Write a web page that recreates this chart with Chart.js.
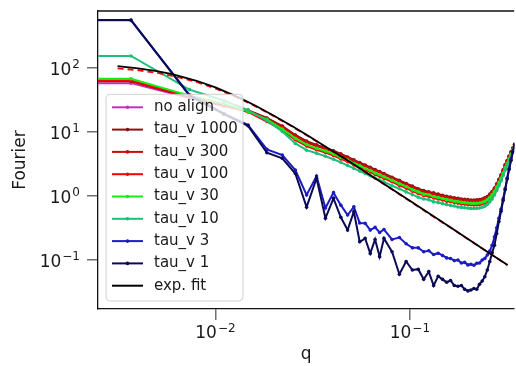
<!DOCTYPE html>
<html>
<head>
<meta charset="utf-8">
<script src="https://cdn.jsdelivr.net/npm/chart.js@4.4.0/dist/chart.umd.min.js"></script>
<style>
  html, body { margin: 0; padding: 0; background: #fff; }
</style>
</head>
<body>
<canvas id="chart" width="516" height="366"></canvas>
<script>
// q grid shared by all measured curves
const Q = [0.00368, 0.00736, 0.01104, 0.01472, 0.0184, 0.02208, 0.02576, 0.02944, 0.03312, 0.0368,
  0.04048, 0.04416, 0.04784, 0.05152, 0.0552, 0.05888, 0.06256, 0.06624, 0.06992, 0.0736,
  0.08096, 0.08832, 0.09568, 0.10304, 0.1104, 0.11776, 0.12512, 0.13248, 0.13984, 0.1472,
  0.15456, 0.16192, 0.16928, 0.17664, 0.184, 0.19136, 0.19872, 0.20608, 0.21344, 0.2208,
  0.22816, 0.23552, 0.24288, 0.25024, 0.2576, 0.26496, 0.27232, 0.27968, 0.28704, 0.2944,
  0.30176, 0.30912, 0.31648, 0.32384, 0.3312, 0.33856, 0.34592];

const NO_ALIGN = [58, 34, 25.5, 21.5, 16.3, 12.2, 8.85, 7.0, 6.15, 5.55, 5.0, 4.45, 4.0, 3.6, 3.27, 3.0, 2.75, 2.54, 2.37, 2.2,
  1.93, 1.72, 1.55, 1.4, 1.27, 1.2, 1.14, 1.09, 1.05, 1.01, 0.975, 0.945, 0.92, 0.9, 0.88, 0.87, 0.86, 0.85, 0.85, 0.85,
  0.86, 0.885, 0.915, 0.965, 1.05, 1.16, 1.31, 1.52, 1.78, 2.1, 2.52, 3.05, 3.55, 4.15, 4.85, 5.6, 6.4];
const TAU_1000 = [62, 35, 26, 22.0, 16.6, 12.4, 9.0, 7.2, 6.3, 5.65, 5.1, 4.55, 4.08, 3.67, 3.33, 3.05, 2.8, 2.6, 2.41, 2.25,
  1.97, 1.76, 1.57, 1.43, 1.3, 1.22, 1.16, 1.12, 1.07, 1.03, 0.995, 0.965, 0.94, 0.92, 0.9, 0.89, 0.878, 0.868, 0.868, 0.87,
  0.88, 0.9, 0.935, 0.985, 1.07, 1.18, 1.33, 1.55, 1.82, 2.14, 2.56, 3.1, 3.6, 4.2, 4.9, 5.6, 6.4];
const TAU_300 = [63, 35, 26.2, 21.2, 16.0, 11.9, 8.7, 6.85, 6.05, 5.45, 4.9, 4.37, 3.93, 3.52, 3.21, 2.94, 2.7, 2.49, 2.32, 2.16,
  1.9, 1.69, 1.51, 1.37, 1.25, 1.17, 1.12, 1.07, 1.03, 0.99, 0.955, 0.93, 0.905, 0.885, 0.865, 0.855, 0.845, 0.835, 0.835, 0.835,
  0.845, 0.865, 0.895, 0.945, 1.03, 1.13, 1.29, 1.49, 1.75, 2.06, 2.47, 2.98, 3.5, 4.1, 4.8, 5.55, 6.35];
const TAU_100 = [64, 35.5, 26.5, 20.6, 14.6, 10.8, 7.56, 6.03, 5.27, 4.77, 4.3, 3.8, 3.45, 3.06, 2.83, 2.55, 2.38, 2.17, 2.03, 1.89,
  1.67, 1.47, 1.33, 1.19, 1.1, 1.02, 0.99, 0.93, 0.9, 0.87, 0.83, 0.815, 0.79, 0.776, 0.754, 0.749, 0.736, 0.731, 0.727, 0.731,
  0.738, 0.758, 0.781, 0.83, 0.9, 0.99, 1.13, 1.31, 1.54, 1.82, 2.2, 2.66, 3.15, 3.75, 4.45, 5.25, 6.1];
const TAU_30 = [68, 37, 27.5, 21, 15.8, 11.1, 7.98, 6.37, 5.56, 5.04, 4.54, 4.01, 3.64, 3.23, 2.98, 2.69, 2.51, 2.29, 2.15, 2.0,
  1.76, 1.55, 1.41, 1.25, 1.16, 1.07, 1.045, 0.98, 0.95, 0.917, 0.879, 0.86, 0.831, 0.819, 0.796, 0.79, 0.777, 0.771, 0.768, 0.771,
  0.779, 0.8, 0.825, 0.876, 0.945, 1.045, 1.19, 1.38, 1.62, 1.9, 2.28, 2.76, 3.23, 3.8, 4.47, 5.25, 6.0];
const TAU_10 = [154, 46, 31, 22, 15, 10.2, 6.64, 5.2, 4.66, 4.19, 3.75, 3.36, 3.0, 2.7, 2.46, 2.25, 2.07, 1.91, 1.78, 1.66,
  1.45, 1.3, 1.16, 1.05, 0.96, 0.9, 0.875, 0.81, 0.79, 0.76, 0.735, 0.71, 0.7, 0.675, 0.665, 0.655, 0.648, 0.64, 0.64, 0.642,
  0.65, 0.67, 0.695, 0.74, 0.81, 0.9, 1.04, 1.22, 1.45, 1.72, 2.09, 2.55, 3.0, 3.56, 4.2, 4.95, 5.7];
const TAU_3 = [555, 38, 19.5, 12.9, 5.36, 4.37, 2.55, 1.04, 2.05, 0.65, 1.13, 0.72, 0.505, 0.68, 0.38, 0.375, 0.294, 0.324, 0.27, 0.30,
  0.21, 0.225, 0.18, 0.155, 0.155, 0.135, 0.14, 0.122, 0.128, 0.118, 0.108, 0.106, 0.098, 0.1, 0.09, 0.092, 0.084, 0.086, 0.083, 0.089,
  0.09, 0.1, 0.106, 0.12, 0.138, 0.17, 0.23, 0.32, 0.45, 0.62, 0.9, 1.3, 1.9, 2.7, 3.7, 5.0, 6.5];
const TAU_1 = [562, 37, 19, 12.5, 4.75, 3.88, 2.25, 0.67, 1.9, 0.45, 0.92, 0.465, 0.294, 0.57, 0.193, 0.218, 0.127, 0.21, 0.113, 0.218,
  0.135, 0.06, 0.095, 0.07, 0.072, 0.05, 0.066, 0.04, 0.056, 0.05, 0.045, 0.048, 0.04, 0.039, 0.04, 0.035, 0.033, 0.034, 0.036, 0.035,
  0.042, 0.047, 0.055, 0.07, 0.095, 0.13, 0.17, 0.26, 0.4, 0.58, 0.85, 1.25, 1.85, 2.6, 3.6, 4.9, 6.4];

// fitted curves
const FIT_Q = [0.00314, 0.004, 0.005, 0.006, 0.008, 0.01, 0.013, 0.016, 0.02, 0.025, 0.03,
  0.04, 0.05, 0.065, 0.08, 0.1, 0.13, 0.16, 0.2, 0.25, 0.318];
const FIT = [107, 99, 89.5, 80, 63.2, 49.8, 35.4, 25.9, 18.0, 12.2, 8.73,
  5.07, 3.30, 1.97, 1.31, 0.842, 0.499, 0.330, 0.2115, 0.1354, 0.0838];
const FIT_DASHED = [99.0, 92.3, 84.0, 75.7, 60.4, 48.0, 34.4, 25.4, 17.7, 12.0, 8.61,
  5.01, 3.26, 1.95, 1.30, 0.833, 0.494, 0.327, 0.2095, 0.1342, 0.0830];

const X_RANGE = [0.00249, 0.344];
const Y_RANGE = [0.0172, 777];
const X_TICKS = [0.01, 0.1];
const Y_TICKS = [0.1, 1, 10, 100];

const SERIES = [
  { label: 'no align', color: '#c22fc2', values: NO_ALIGN },
  { label: 'tau_v 1000', color: '#8b1212', values: TAU_1000 },
  { label: 'tau_v 300', color: '#cc0a0a', values: TAU_300 },
  { label: 'tau_v 100', color: '#ff0000', values: TAU_100 },
  { label: 'tau_v 30', color: '#12f012', values: TAU_30 },
  { label: 'tau_v 10', color: '#1fbf7a', values: TAU_10 },
  { label: 'tau_v 3', color: '#1c1cc4', values: TAU_3 },
  { label: 'tau_v 1', color: '#0b0b55', values: TAU_1 }
];

const FONT = '"DejaVu Sans", sans-serif';
const TEXT_COLOR = '#1a1a1a';

function exponentOf(v) {
  return String(Math.round(Math.log10(v))).replace('-', '\u2212');
}

const datasets = SERIES.map((s, i) => ({
  label: s.label,
  // first point sits on the left edge at the first value (horizontal lead-in)
  data: [{ x: X_RANGE[0], y: s.values[0] }].concat(Q.map((q, j) => ({ x: q, y: s.values[j] }))),
  borderColor: s.color,
  backgroundColor: s.color,
  borderWidth: 2,
  pointRadius: ctx => ctx.dataIndex === 0 ? 0 : 1.8,
  pointBorderWidth: 0,
  pointHoverRadius: 0,
  tension: 0,
  order: 100 - i
}));

datasets.push({
  label: 'fit dashed',
  data: FIT_Q.map((q, j) => ({ x: q, y: FIT_DASHED[j] })),
  borderColor: '#ff0000',
  borderWidth: 1.8,
  borderDash: [6, 4],
  pointRadius: 0,
  tension: 0,
  order: 2
});
datasets.push({
  label: 'exp. fit',
  data: FIT_Q.map((q, j) => ({ x: q, y: FIT[j] })),
  borderColor: '#000000',
  borderWidth: 1.8,
  pointRadius: 0,
  tension: 0,
  order: 1
});

const topSpine = {
  id: 'topSpine',
  afterDatasetsDraw(chart) {
    const { ctx, chartArea: a } = chart;
    ctx.save();
    ctx.strokeStyle = '#111';
    ctx.lineWidth = 1.3;
    ctx.beginPath();
    ctx.moveTo(a.left, a.top);
    ctx.lineTo(a.right, a.top);
    ctx.stroke();
    ctx.restore();
  }
};

// "10" with a raised exponent, like matplotlib's log tick labels
function drawPower(ctx, v, x, baseline, align) {
  const big = '17px ' + FONT, small = '12px ' + FONT;
  const exp = exponentOf(v);
  ctx.font = big;
  const w1 = ctx.measureText('10').width;
  ctx.font = small;
  const w2 = ctx.measureText(exp).width;
  const total = w1 + 1 + w2;
  let left = align === 'right' ? x - total : x - total / 2;
  ctx.font = big;
  ctx.fillText('10', left, baseline);
  ctx.font = small;
  ctx.fillText(exp, left + w1 + 1, baseline - 6.5);
}

const powerTicks = {
  id: 'powerTicks',
  afterDraw(chart) {
    const { ctx, chartArea: a, scales } = chart;
    ctx.save();
    ctx.fillStyle = TEXT_COLOR;
    ctx.textAlign = 'left';
    ctx.textBaseline = 'alphabetic';
    X_TICKS.forEach(v => drawPower(ctx, v, scales.x.getPixelForValue(v), a.bottom + 29, 'center'));
    Y_TICKS.forEach(v => drawPower(ctx, v, a.left - 18, scales.y.getPixelForValue(v) + 6.5, 'right'));
    ctx.restore();
  }
};

const legendBox = {
  id: 'legendBox',
  afterDraw(chart) {
    const { ctx, chartArea } = chart;
    const entries = SERIES.map(s => ({ label: s.label, color: s.color, marker: true }));
    entries.push({ label: 'exp. fit', color: '#000000', marker: false });
    const rowH = 22.3;
    const w = 137;
    const h = entries.length * rowH + 6;
    const x = chartArea.left + 8;
    const y = chartArea.bottom - 8 - h;
    ctx.save();
    ctx.beginPath();
    ctx.roundRect(x, y, w, h, 4);
    ctx.fillStyle = 'rgba(255,255,255,0.8)';
    ctx.fill();
    ctx.strokeStyle = 'rgba(204,204,204,0.9)';
    ctx.lineWidth = 1;
    ctx.stroke();
    ctx.font = '15px ' + FONT;
    ctx.textBaseline = 'middle';
    entries.forEach((e, i) => {
      const cy = y + 13 + i * rowH;
      ctx.strokeStyle = e.color;
      ctx.lineWidth = 2;
      ctx.beginPath();
      ctx.moveTo(x + 6, cy);
      ctx.lineTo(x + 37, cy);
      ctx.stroke();
      if (e.marker) {
        ctx.fillStyle = e.color;
        ctx.beginPath();
        ctx.arc(x + 21.5, cy, 1.8, 0, Math.PI * 2);
        ctx.fill();
      }
      ctx.fillStyle = TEXT_COLOR;
      ctx.fillText(e.label, x + 48, cy);
    });
    ctx.restore();
  }
};

const axisGrid = {
  drawOnChartArea: false,
  drawTicks: true,
  tickLength: 11,
  tickColor: '#707070',
  tickWidth: 1.5,
  lineWidth: 1.5
};

new Chart(document.getElementById('chart'), {
  type: 'line',
  data: { datasets },
  options: {
    responsive: false,
    devicePixelRatio: 1,
    animation: false,
    events: [],
    layout: { padding: { top: 11, right: 0, left: 0, bottom: 0 } },
    plugins: { legend: { display: false }, tooltip: { enabled: false } },
    scales: {
      x: {
        type: 'logarithmic',
        position: 'bottom',
        bounds: 'data',
        min: X_RANGE[0],
        max: X_RANGE[1],
        afterBuildTicks: scale => { scale.ticks = X_TICKS.map(v => ({ value: v })); },
        afterFit: scale => {
          scale.height = 57;
          scale.paddingLeft = 0;
          scale.paddingRight = 0;
        },
        ticks: { display: false, autoSkip: false, maxRotation: 0 },
        grid: axisGrid,
        border: { display: true, color: '#111', width: 1.3 },
        title: { display: true, text: 'q', color: TEXT_COLOR, font: { family: FONT, size: 17 }, padding: { top: 0, bottom: 1 } }
      },
      y: {
        type: 'logarithmic',
        position: 'left',
        bounds: 'data',
        min: Y_RANGE[0],
        max: Y_RANGE[1],
        afterBuildTicks: scale => { scale.ticks = Y_TICKS.map(v => ({ value: v })); },
        afterFit: scale => {
          scale.width = 98;
          scale.paddingTop = 0;
          scale.paddingBottom = 0;
        },
        ticks: { display: false, autoSkip: false },
        grid: axisGrid,
        border: { display: true, color: '#111', width: 1.3 },
        title: { display: true, text: 'Fourier', color: TEXT_COLOR, font: { family: FONT, size: 17 }, padding: { top: 10, bottom: 0 } }
      }
    }
  },
  plugins: [topSpine, powerTicks, legendBox]
});
</script>
</body>
</html>
